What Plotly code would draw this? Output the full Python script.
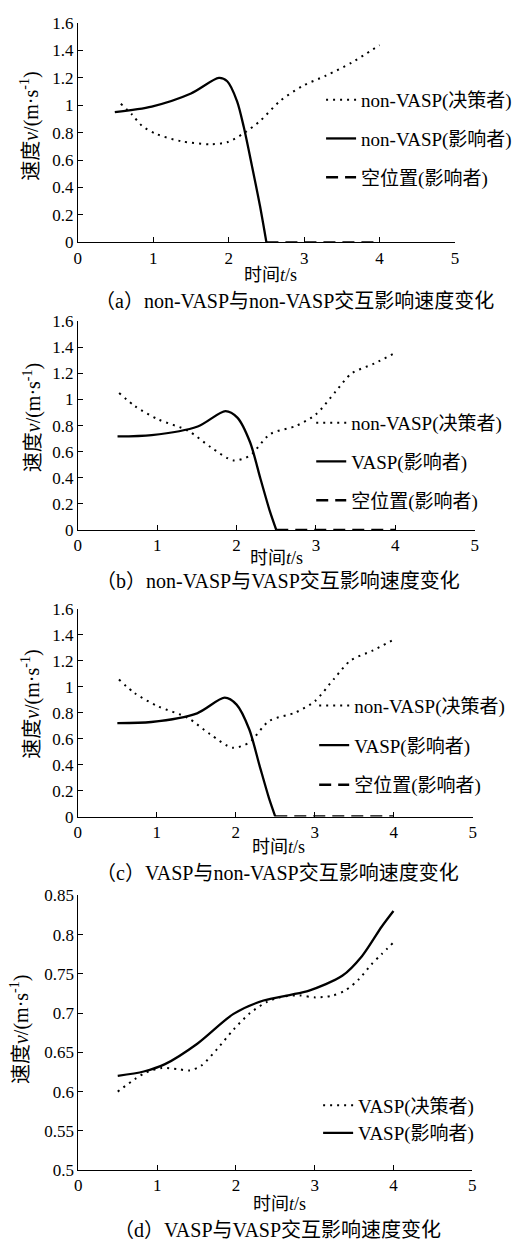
import plotly.graph_objects as go

W, H = 523, 1251

# ---------------- data ----------------
# (a) non-VASP vs non-VASP
a_dec_t = [0.57, 0.72, 0.85, 1.04, 1.37, 1.76, 1.98, 2.2, 2.42, 2.68, 2.98, 3.29, 3.63, 4.0]
a_dec_v = [1.01, 0.93, 0.85, 0.79, 0.737, 0.715, 0.73, 0.795, 0.887, 1.03, 1.14, 1.215, 1.31, 1.437]
a_inf_t = [0.49, 0.98, 1.5, 1.87, 1.98, 2.11, 2.2, 2.31, 2.415, 2.5]
a_inf_v = [0.949, 0.99, 1.085, 1.198, 1.174, 1.03, 0.84, 0.552, 0.265, 0.0]
a_emp_t = [2.5, 4.0]
a_emp_v = [0.0, 0.0]

# (b) non-VASP vs VASP
b_dec_t = [0.52, 0.72, 1.01, 1.39, 1.675, 1.96, 2.17, 2.42, 2.75, 3.0, 3.25, 3.45, 3.74, 4.0]
b_dec_v = [1.05, 0.949, 0.848, 0.76, 0.634, 0.533, 0.571, 0.734, 0.798, 0.886, 1.063, 1.2, 1.277, 1.358]
b_inf_t = [0.5, 0.93, 1.51, 1.86, 2.01, 2.17, 2.3, 2.42, 2.5]
b_inf_v = [0.717, 0.727, 0.793, 0.911, 0.861, 0.672, 0.394, 0.142, 0.0]
b_emp_t = [2.5, 4.0]
b_emp_v = [0.0, 0.0]

# (c) VASP vs non-VASP
c_dec_t = [0.52, 0.72, 1.01, 1.39, 1.675, 1.96, 2.17, 2.42, 2.75, 3.0, 3.25, 3.45, 3.74, 4.0]
c_dec_v = [1.055, 0.95, 0.85, 0.76, 0.634, 0.53, 0.57, 0.735, 0.80, 0.888, 1.065, 1.2, 1.28, 1.362]
c_inf_t = [0.5, 0.93, 1.51, 1.86, 2.01, 2.17, 2.3, 2.42, 2.5]
c_inf_v = [0.72, 0.728, 0.795, 0.915, 0.862, 0.672, 0.394, 0.142, 0.0]
c_emp_t = [2.5, 4.0]
c_emp_v = [0.0, 0.0]

# (d) VASP vs VASP
d_dec_t = [0.5, 0.72, 0.85, 1.06, 1.26, 1.41, 1.56, 1.76, 1.97, 2.18, 2.39, 2.6, 2.81, 3.01, 3.22, 3.39, 3.56, 3.72, 3.85, 4.0]
d_dec_v = [0.6, 0.616, 0.624, 0.63, 0.6286, 0.627, 0.633, 0.654, 0.679, 0.70, 0.714, 0.721, 0.7224, 0.72, 0.722, 0.729, 0.743, 0.762, 0.775, 0.79]
d_inf_t = [0.5, 0.83, 1.1, 1.51, 1.97, 2.35, 2.68, 2.93, 3.35, 3.6, 3.85, 4.0]
d_inf_v = [0.620, 0.6256, 0.635, 0.661, 0.699, 0.716, 0.723, 0.7287, 0.7475, 0.7725, 0.81, 0.83]

x_ticks = [0, 1, 2, 3, 4, 5]

names_a = ["non-VASP(决策者)", "non-VASP(影响者)", "空位置(影响者)"]
names_b = ["non-VASP(决策者)", "VASP(影响者)", "空位置(影响者)"]
names_c = ["non-VASP(决策者)", "VASP(影响者)", "空位置(影响者)"]
names_d = ["VASP(决策者)", "VASP(影响者)"]

captions = ["（a）non-VASP与non-VASP交互影响速度变化",
            "（b）non-VASP与VASP交互影响速度变化",
            "（c）VASP与non-VASP交互影响速度变化",
            "（d）VASP与VASP交互影响速度变化"]

# ---------------- layout helpers ----------------
FONT = "Liberation Serif, Noto Sans CJK SC, serif"

def px(x):
    return x / W

def py(y):
    return 1 - y / H

DOT = dict(color="black", width=2, dash="2px,5px")
SOLID = dict(color="black", width=2.3)
DASH = dict(color="black", width=2.5, dash="12px,7px")

fig = go.Figure()

panels = [
    dict(ax="x", ay="y", leg="legend", x0=75, x1=458, yt=14, yb=237, yr=[0, 1.6], dt=0.2,
         series=[(a_dec_t, a_dec_v, DOT, names_a[0]), (a_inf_t, a_inf_v, SOLID, names_a[1]),
                 (a_emp_t, a_emp_v, DASH, names_a[2])],
         leg_x=322, leg_y=73, gap=11, ytx=26, yty=119, xt=(271, 270), cap=(295, 296)),
    dict(ax="x2", ay="y2", leg="legend2", x0=75, x1=478, yt=317, yb=529, yr=[0, 1.6], dt=0.2,
         series=[(b_dec_t, b_dec_v, DOT, names_b[0]), (b_inf_t, b_inf_v, SOLID, names_b[1]),
                 (b_emp_t, b_emp_v, DASH, names_b[2])],
         leg_x=312, leg_y=401, gap=11, ytx=29, yty=415, xt=(277, 557), cap=(278, 581)),
    dict(ax="x3", ay="y3", leg="legend3", x0=75, x1=476, yt=609, yb=820, yr=[0, 1.6], dt=0.2,
         series=[(c_dec_t, c_dec_v, DOT, names_c[0]), (c_inf_t, c_inf_v, SOLID, names_c[1]),
                 (c_emp_t, c_emp_v, DASH, names_c[2])],
         leg_x=315, leg_y=688, gap=12, ytx=27, yty=706, xt=(279, 851), cap=(278, 877)),
    dict(ax="x4", ay="y4", leg="legend4", x0=75.5, x1=475.5, yt=900, yb=1179, yr=[0.5, 0.85], dt=0.05,
         series=[(d_dec_t, d_dec_v, DOT, names_d[0]), (d_inf_t, d_inf_v, SOLID, names_d[1])],
         leg_x=319, leg_y=1094, gap=0, ytx=16, yty=1036, xt=(280, 1213), cap=(278, 1240)),
]

annotations = []
for i, p in enumerate(panels):
    for k, (t, v, ln, nm) in enumerate(p["series"]):
        fig.add_trace(go.Scatter(x=t, y=v, mode="lines", line=dict(shape="spline", smoothing=0.8, **ln),
                                 name=nm, xaxis=p["ax"], yaxis=p["ay"], legend=p["leg"],
                                 legendgroup=f"g{i}{k}", hoverinfo="skip"))
    xa_key = "xaxis" if p["ax"] == "x" else "xaxis" + p["ax"][1:]
    ya_key = "yaxis" if p["ay"] == "y" else "yaxis" + p["ay"][1:]
    fig.update_layout(**{
        xa_key: dict(domain=[px(p["x0"]), px(p["x1"])], range=[0, 5], tickvals=x_ticks,
                     ticks="inside", ticklen=5, tickcolor="black", showline=True, linecolor="black",
                     linewidth=1, showgrid=False, zeroline=False, anchor=p["ay"],
                     tickfont=dict(family=FONT, size=17, color="black")),
        ya_key: dict(domain=[py(p["yb"]), py(p["yt"])], range=p["yr"], dtick=p["dt"], tick0=0,
                     ticks="inside", ticklen=5, tickcolor="black", showline=True, linecolor="black",
                     linewidth=1, showgrid=False, zeroline=False, anchor=p["ax"],
                     tickfont=dict(family=FONT, size=17, color="black")),
        p["leg"]: dict(x=px(p["leg_x"]), y=py(p["leg_y"]), xanchor="left", yanchor="top",
                       xref="paper", yref="paper", bgcolor="rgba(0,0,0,0)",
                       font=dict(family=FONT, size=19, color="black"), tracegroupgap=p["gap"],
                       itemwidth=30),
    })
    annotations.append(dict(text="速度<i>v</i>/(m·s<sup>-1</sup>)", x=px(p["ytx"]), y=py(p["yty"]),
                            xref="paper", yref="paper", showarrow=False, textangle=-90,
                            xanchor="center", yanchor="middle",
                            font=dict(family=FONT, size=20, color="black")))
    annotations.append(dict(text="时间<i>t</i>/s", x=px(p["xt"][0]), y=py(p["xt"][1]),
                            xref="paper", yref="paper", showarrow=False,
                            xanchor="center", yanchor="middle",
                            font=dict(family=FONT, size=18, color="black")))
    annotations.append(dict(text=captions[i], x=px(p["cap"][0]), y=py(p["cap"][1]),
                            xref="paper", yref="paper", showarrow=False,
                            xanchor="center", yanchor="middle",
                            font=dict(family=FONT, size=20, color="black")))

fig.update_layout(width=W, height=H, margin=dict(l=0, r=0, t=0, b=0),
                  paper_bgcolor="white", plot_bgcolor="white", annotations=annotations,
                  showlegend=True)

fig.write_html("out.html", config={"displayModeBar": False},
               post_script="document.body.style.margin='0';document.body.style.overflow='hidden';")
